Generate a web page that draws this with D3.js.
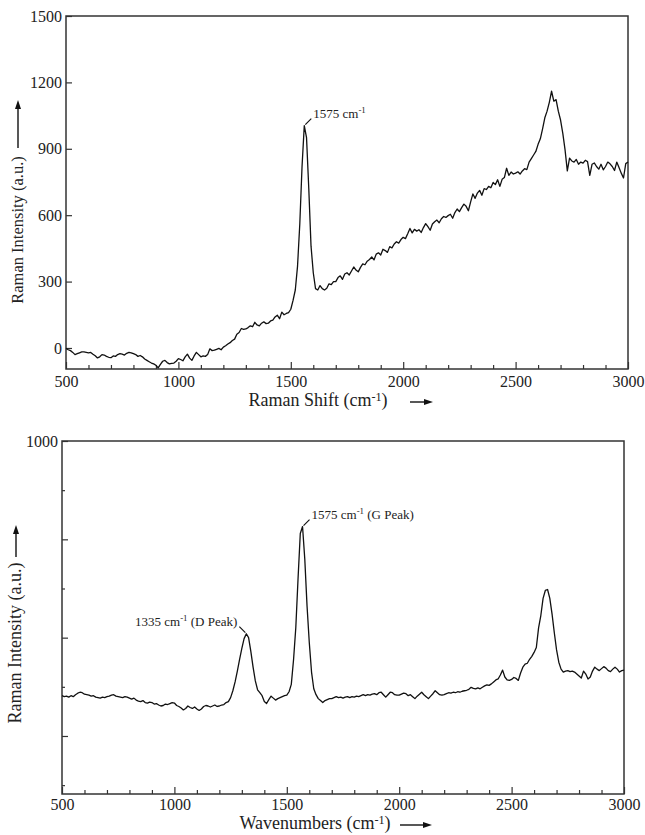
<!DOCTYPE html>
<html lang="en">
<head>
<meta charset="UTF-8" />
<title>Raman spectra</title>
<style>
  body { margin: 0; background: #fff; }
  svg text { font-family: "Liberation Serif", "DejaVu Serif", serif; fill: #222; }
</style>
</head>
<body>
<div id="chart"></div>
<script src="https://d3js.org/d3.v7.min.js"></script>
<script>
// spectra sampled every 10 cm-1 from 500 to 3000
const shiftStart = 500, shiftStep = 10;

const topIntensity = [
  -2, -8, -12, -20, -30, -26, -22, -18, -18, -20,
  -22, -20, -28, -35, -45, -40, -30, -32, -38, -42,
  -44, -36, -38, -30, -26, -28, -32, -24, -20, -22,
  -26, -30, -38, -34, -40, -50, -56, -62, -68, -72,
  -78, -90, -74, -60, -56, -66, -72, -70, -68, -60,
  -48, -52, -58, -40, -28, -46, -56, -36, -20, -30,
  -40, -36, -38, -30, -4, -12, -10, -6, -2, -8,
  4, 10, 18, 24, 34, 40, 62, 70, 88, 84,
  86, 92, 100, 96, 116, 104, 100, 112, 118, 110,
  112, 122, 126, 140, 148, 132, 162, 150, 156, 160,
  175, 215, 262, 370, 560, 820, 1005, 950, 720, 460,
  340, 268, 262, 282, 268, 262, 270, 290, 286, 300,
  300, 318, 326, 310, 334, 340, 330, 348, 366, 352,
  344, 364, 380, 376, 392, 400, 411, 398, 424, 430,
  420, 446, 440, 432, 458, 452, 470, 480, 474, 490,
  500, 494, 516, 540, 520, 536, 528, 534, 522, 544,
  562, 548, 532, 560, 570, 578, 566, 584, 594, 590,
  598, 604, 586, 612, 628, 616, 634, 650, 640, 620,
  660, 696, 676, 700, 712, 690, 720, 716, 730, 724,
  748, 738, 760, 730, 762, 770, 812, 780, 795, 786,
  790, 796, 786, 800, 810, 806, 840, 856, 872, 888,
  920, 945, 990, 1040, 1070, 1110, 1160, 1115, 1122, 1070,
  1030, 970, 895, 800, 858, 845, 840, 852, 830, 840,
  835, 848, 842, 780, 830, 836, 820, 808, 830, 805,
  820, 840, 832, 820, 802, 840, 815, 790, 768, 833,
  840
];

const bottomIntensity = [
  482, 480, 481, 479, 482, 480, 484, 487, 489, 488,
  485, 484, 483, 481, 482, 479, 478, 477, 479, 478,
  480, 481, 483, 484, 481, 480, 479, 478, 480, 479,
  477, 475, 477, 473, 471, 470, 472, 468, 467, 469,
  468, 465, 466, 463, 461, 462, 465, 464, 466, 468,
  467, 462, 460, 457, 453, 456, 461, 458, 456, 459,
  455, 452, 455, 460, 462, 461, 459, 461, 463, 460,
  461, 463, 464, 468, 470, 478, 492, 510, 532, 556,
  578, 598, 608, 600, 572, 540, 512, 494, 488, 482,
  470, 466, 474, 481, 477, 473, 476, 478, 480, 482,
  483, 490, 505, 555, 620, 720, 812, 826, 760, 665,
  590, 530, 496, 484, 476, 472, 468, 472, 474, 476,
  476, 478, 480, 478, 479, 477, 479, 480, 478, 480,
  479, 481, 480, 482, 484, 482, 484, 483, 485, 486,
  484, 488, 489, 484, 479, 484, 489, 488, 484, 483,
  483, 485, 487, 486, 482, 484, 480, 476, 481, 485,
  489, 484, 480, 476, 481, 486, 492, 488, 484, 483,
  484, 486, 488, 487, 489, 488, 490, 489, 491, 492,
  493, 495, 499, 497, 496, 498, 496, 499, 502, 504,
  503, 506, 510, 514, 516, 524, 534, 520, 514, 513,
  515, 519, 517, 513, 528, 540, 546, 548, 556, 562,
  570, 580, 620, 645, 680, 696, 698, 680, 648, 610,
  575, 550, 536, 530, 532, 533, 531, 532, 530, 526,
  522, 518, 532, 526, 516, 520, 532, 540, 536, 533,
  537, 541, 538, 533, 531, 536, 540, 536, 530, 533,
  534
];

const xTicks = [500, 1000, 1500, 2000, 2500, 3000];
const topYTicks = [0, 300, 600, 900, 1200, 1500];
const bottomYTicks = [400, 600, 800, 1000];
const bottomYMinorTicks = [300, 500, 700, 900];
const bottomYLabelled = [1000];

// peak annotations: position (cm-1) on the curve, label text, side
const topPeaks = [{ shift: 1560, label: "1575 cm", note: "", side: "right" }];
const bottomPeaks = [
  { shift: 1320, label: "1335 cm", note: " (D Peak)", side: "left" },
  { shift: 1570, label: "1575 cm", note: " (G Peak)", side: "right" }
];

const serif = '"Liberation Serif", "DejaVu Serif", serif';

const svg = d3.select("#chart").append("svg")
  .attr("width", 645)
  .attr("height", 835)
  .attr("font-family", serif);

function supText(sel, before, after) {
  sel.append("tspan").text(before);
  sel.append("tspan").attr("dy", -5).attr("font-size", "0.68em").text("-1");
  sel.append("tspan").attr("dy", 5).text(after);
}

function drawPanel(cfg) {
  const x = d3.scaleLinear().domain([500, 3000]).range([cfg.left, cfg.right]);
  const y = d3.scaleLinear().domain(cfg.yDomain).range([cfg.bottom, cfg.top]);
  const g = svg.append("g");
  const shiftOf = i => shiftStart + i * shiftStep;
  const fmt = d3.format("d");

  // minor x ticks
  g.append("g")
    .attr("transform", `translate(0,${cfg.bottom})`)
    .call(d3.axisBottom(x)
      .tickValues(d3.range(600, 3000, 100).filter(v => v % 500 !== 0))
      .tickSize(-4).tickFormat(""));

  // major x ticks
  g.append("g")
    .attr("transform", `translate(0,${cfg.bottom})`)
    .call(d3.axisBottom(x).tickValues(xTicks).tickSize(-7).tickPadding(cfg.xPad).tickFormat(fmt))
    .attr("font-family", serif).attr("font-size", 16);

  // y ticks
  if (cfg.yMinor) {
    g.append("g")
      .attr("transform", `translate(${cfg.left},0)`)
      .call(d3.axisLeft(y).tickValues(cfg.yMinor).tickSize(-3).tickFormat(""));
  }
  g.append("g")
    .attr("transform", `translate(${cfg.left},0)`)
    .call(d3.axisLeft(y).tickValues(cfg.yTicks).tickSize(-6).tickPadding(4)
      .tickFormat(d => cfg.yLabelled.includes(d) ? fmt(d) : ""))
    .attr("font-family", serif).attr("font-size", 16);

  g.selectAll(".domain").remove();
  g.selectAll(".tick line").attr("stroke", "#333").attr("stroke-width", 1.2);
  g.selectAll(".tick text").attr("fill", "#222");

  // frame
  g.append("rect")
    .attr("x", cfg.left).attr("y", cfg.top)
    .attr("width", cfg.right - cfg.left).attr("height", cfg.bottom - cfg.top)
    .attr("fill", "none").attr("stroke", "#333").attr("stroke-width", 1.5);

  // spectrum
  g.append("path")
    .datum(cfg.data)
    .attr("fill", "none")
    .attr("stroke", "#111")
    .attr("stroke-width", 1.3)
    .attr("stroke-linejoin", "round")
    .attr("d", d3.line().x((d, i) => x(shiftOf(i))).y(d => y(d)));

  // peak labels
  cfg.peaks.forEach(p => {
    const px = x(p.shift);
    const py = y(cfg.data[(p.shift - shiftStart) / shiftStep]);
    const dir = p.side === "right" ? 1 : -1;
    g.append("line")
      .attr("x1", px + dir * 1).attr("y1", py - 1)
      .attr("x2", px + dir * 7).attr("y2", py - 7)
      .attr("stroke", "#111").attr("stroke-width", 1.1);
    const t = g.append("text")
      .attr("x", px + dir * 9).attr("y", py - 8)
      .attr("font-size", 13)
      .attr("text-anchor", p.side === "right" ? "start" : "end");
    supText(t, p.label, p.note);
  });

  // x title with arrow
  const xt = g.append("text")
    .attr("x", cfg.xTitleX).attr("y", cfg.xTitleY)
    .attr("text-anchor", "middle").attr("font-size", 18);
  supText(xt, cfg.xTitle + " (cm", ")");
  arrow(g, cfg.xArrow[0], cfg.xTitleY - 4, cfg.xArrow[1], cfg.xTitleY - 4);

  // y title with arrow
  g.append("text")
    .attr("transform", `translate(${cfg.yTitleX},${cfg.yTitleY}) rotate(-90)`)
    .attr("text-anchor", "middle")
    .attr("font-size", cfg.yTitleSize)
    .text("Raman Intensity (a.u.)");
  arrow(g, cfg.yTitleX - 5, cfg.yArrow[0], cfg.yTitleX - 5, cfg.yArrow[1]);
}

function arrow(g, x1, y1, x2, y2) {
  const a = Math.atan2(y2 - y1, x2 - x1);
  const len = 9, w = 3;
  g.append("line")
    .attr("x1", x1).attr("y1", y1)
    .attr("x2", x2 - Math.cos(a) * len * 0.8).attr("y2", y2 - Math.sin(a) * len * 0.8)
    .attr("stroke", "#111").attr("stroke-width", 1.4);
  const bx = x2 - Math.cos(a) * len, by = y2 - Math.sin(a) * len;
  g.append("path")
    .attr("d", `M${x2},${y2}L${bx - Math.sin(a) * w},${by + Math.cos(a) * w}L${bx + Math.sin(a) * w},${by - Math.cos(a) * w}Z`)
    .attr("fill", "#111");
}

drawPanel({
  data: topIntensity,
  left: 66, right: 628, top: 16, bottom: 369,
  yDomain: [-95, 1500],
  yTicks: topYTicks, yLabelled: topYTicks, yMinor: null,
  xPad: 7,
  peaks: topPeaks,
  xTitle: "Raman Shift", xTitleX: 318, xTitleY: 406, xArrow: [410, 433],
  yTitleX: 23, yTitleY: 230, yTitleSize: 16.5, yArrow: [148, 100]
});

drawPanel({
  data: bottomIntensity,
  left: 62, right: 624, top: 441, bottom: 794,
  yDomain: [282, 1000],
  yTicks: bottomYTicks, yLabelled: bottomYLabelled, yMinor: bottomYMinorTicks,
  xPad: 5,
  peaks: bottomPeaks,
  xTitle: "Wavenumbers", xTitleX: 315, xTitleY: 829, xArrow: [400, 432],
  yTitleX: 21, yTitleY: 643, yTitleSize: 18, yArrow: [557, 525]
});
</script>
</body>
</html>
